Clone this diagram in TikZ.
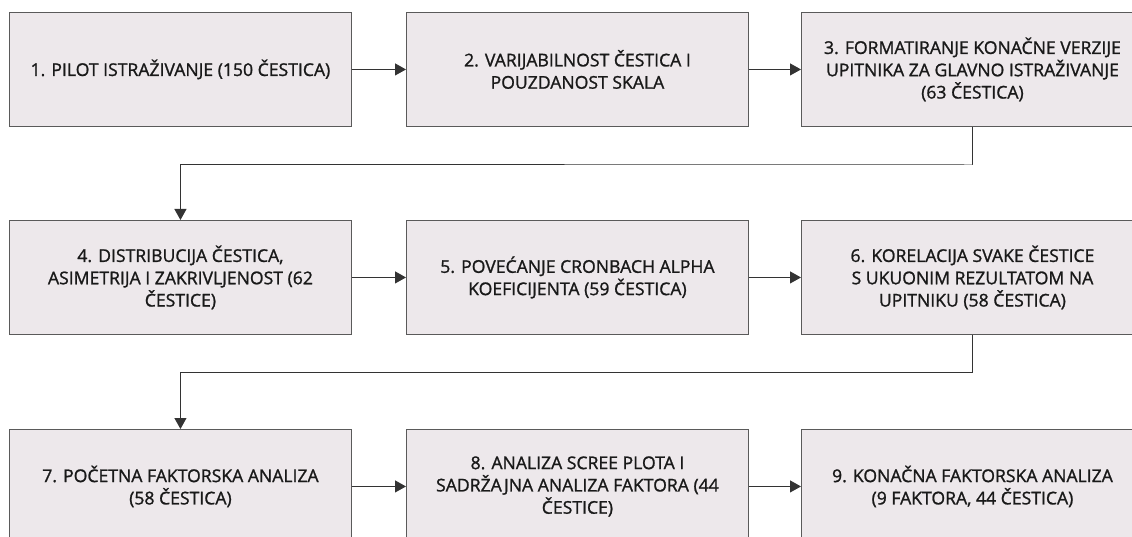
\documentclass[tikz,border=0pt]{standalone}
\usepackage{fontspec}
\setmainfont{Open Sans}[FakeBold=1.2]
\usetikzlibrary{arrows.meta}
\definecolor{boxfill}{HTML}{EDE8EB}
\definecolor{boxline}{HTML}{5A5A5A}
\definecolor{conn}{HTML}{333333}
\tikzset{
  stepbox/.style={draw=boxline, fill=boxfill, line width=0.9pt, minimum width=342pt, minimum height=114pt, inner sep=0pt, align=center, font=\fontsize{17.6}{22.3}\selectfont, anchor=north west, text=black!90},
  conn/.style={draw=conn, line width=1pt, -{Triangle[length=11pt,width=12pt]}}
}
\begin{document}
\begin{tikzpicture}[x=1pt,y=-1pt]
\useasboundingbox (0,0) rectangle (1132,537);
\clip (0,0) rectangle (1132,537);
\node[stepbox] (b1) at (9,12) {1. PILOT ISTRAŽIVANJE (150 ČESTICA)};
\node[stepbox] (b2) at (406,12) {2. VARIJABILNOST ČESTICA I\\POUZDANOST SKALA};
\node[stepbox] (b3) at (801,12) {3. FORMATIRANJE KONAČNE VERZIJE\\UPITNIKA ZA GLAVNO ISTRAŽIVANJE\\(63 ČESTICA)};
\node[stepbox] (b4) at (9,220) {4. DISTRIBUCIJA ČESTICA,\\ASIMETRIJA I ZAKRIVLJENOST (62\\ČESTICE)};
\node[stepbox] (b5) at (406,220) {5. POVEĆANJE CRONBACH ALPHA\\KOEFICIJENTA (59 ČESTICA)};
\node[stepbox] (b6) at (801,220) {6. KORELACIJA SVAKE ČESTICE\\S UKUONIM REZULTATOM NA\\UPITNIKU (58 ČESTICA)};
\node[stepbox] (b7) at (9,429) {7. POČETNA FAKTORSKA ANALIZA\\(58 ČESTICA)};
\node[stepbox] (b8) at (406,429) {8. ANALIZA SCREE PLOTA I\\SADRŽAJNA ANALIZA FAKTORA (44\\ČESTICE)};
\node[stepbox] (b9) at (801,429) {9. KONAČNA FAKTORSKA ANALIZA\\(9 FAKTORA, 44 ČESTICA)};
\draw[conn] (b1) -- (b2);
\draw[conn] (b2) -- (b3);
\draw[conn] (b4) -- (b5);
\draw[conn] (b5) -- (b6);
\draw[conn] (b7) -- (b8);
\draw[conn] (b8) -- (b9);
\coordinate (t1) at (972,165);
\coordinate (t2) at (180,372);
\draw[conn] (b3.south) |- (t1) -| (b4.north);
\draw[conn] (b6.south) |- (t2 -| b6.south) -| (b7.north);
\end{tikzpicture}
\end{document}
